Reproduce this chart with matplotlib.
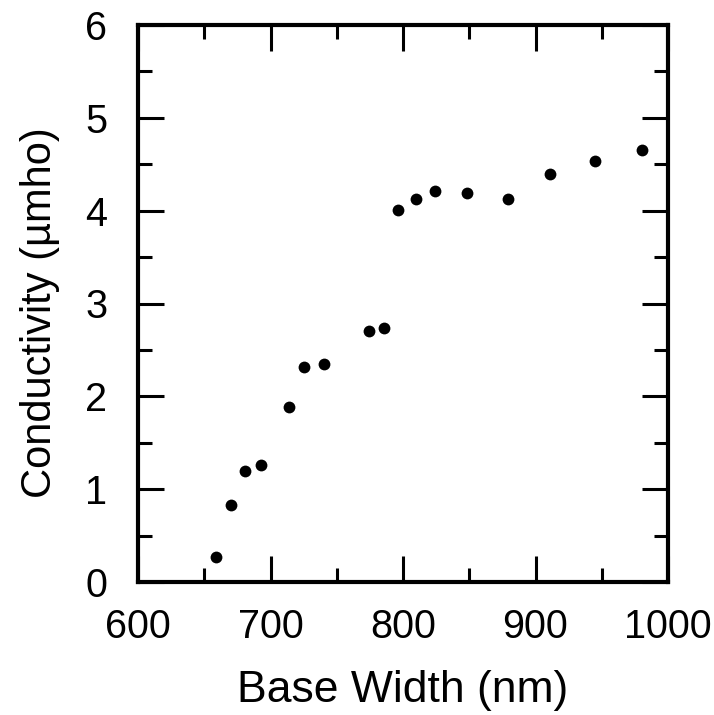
import matplotlib
matplotlib.use("Agg")
import matplotlib.pyplot as plt
from matplotlib.ticker import MultipleLocator

# base width (nm) vs conductivity (umho)
base_width = [659, 670, 681, 693, 714, 725, 740, 774, 786, 796, 810, 824, 848, 879, 911, 945, 980]
conductivity = [0.27, 0.83, 1.20, 1.26, 1.89, 2.32, 2.35, 2.70, 2.74, 4.01, 4.13, 4.21, 4.19, 4.13, 4.40, 4.54, 4.65]

plt.rcParams['font.family'] = ['Liberation Sans', 'DejaVu Sans']

fig = plt.figure(figsize=(7.14, 7.15), dpi=100)
ax = fig.add_axes([138/714, 1-582/715, (668-138)/714, (582-25)/715])

ax.plot(base_width, conductivity, 'o', color='black', markersize=8.5, markeredgewidth=0)

ax.set_xlim(600, 1000)
ax.set_ylim(0, 6)
ax.xaxis.set_major_locator(MultipleLocator(100))
ax.xaxis.set_minor_locator(MultipleLocator(50))
ax.yaxis.set_major_locator(MultipleLocator(1))
ax.yaxis.set_minor_locator(MultipleLocator(0.5))

for s in ax.spines.values():
    s.set_linewidth(3)
ax.tick_params(which='both', direction='in', top=True, right=True, width=2.2, labelsize=28.5)
ax.tick_params(which='major', length=19)
ax.tick_params(which='minor', length=10)
ax.tick_params(axis='x', pad=19)
ax.tick_params(axis='y', pad=22)

ax.set_xlabel('Base Width (nm)', fontsize=32, labelpad=17)
ax.set_ylabel('Conductivity (\u00b5mho)', fontsize=30)
ax.yaxis.set_label_coords(-0.147, 0.483)

fig.savefig('out.png', dpi=100)
